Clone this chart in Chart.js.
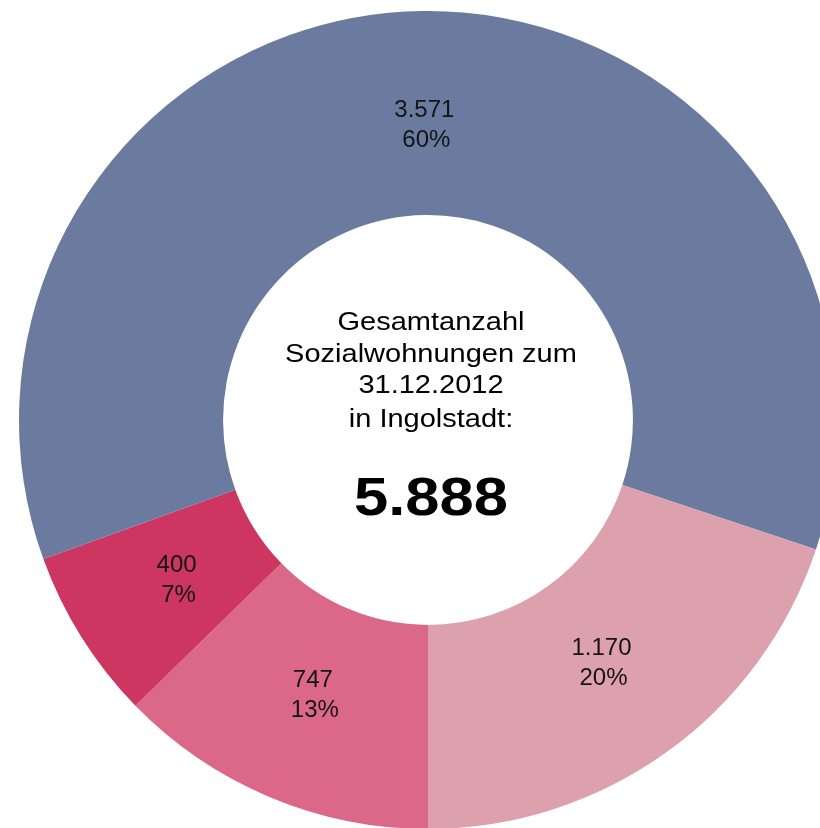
<!DOCTYPE html>
<html>
<head>
<meta charset="utf-8">
<script src="https://cdn.jsdelivr.net/npm/chart.js@4/dist/chart.umd.min.js"></script>
<style>
  html, body { margin: 0; padding: 0; background: #ffffff; }
  body { width: 820px; height: 828px; overflow: hidden; position: relative; }
  #c { position: absolute; left: 19px; top: 11px; }
</style>
</head>
<body>
<canvas id="c" width="818" height="818"></canvas>
<script>
// Data (order starts at 6 o'clock, clockwise)
const categories = ["Segment 747", "Segment 400", "Segment 3.571", "Segment 1.170"];
const values = [747, 400, 3571, 1170];
const percentLabels = ["13%", "7%", "60%", "20%"];
const colors = ["#DB6889", "#CC3661", "#6B7B9F", "#DDA1AE"];
const centerLines = ["Gesamtanzahl", "Sozialwohnungen zum", "31.12.2012", "in Ingolstadt:"];

function formatDE(n) {
  return String(n).replace(/\B(?=(\d{3})+(?!\d))/g, ".");
}
const total = values.reduce((a, b) => a + b, 0);

const labelPlugin = {
  id: 'sliceLabels',
  afterDatasetsDraw(chart) {
    const ctx = chart.ctx;
    const meta = chart.getDatasetMeta(0);
    ctx.save();
    ctx.fillStyle = '#141414';
    ctx.textAlign = 'center';
    ctx.textBaseline = 'alphabetic';
    ctx.font = '24px "Liberation Sans", Arial, sans-serif';
    meta.data.forEach((arc, i) => {
      const p = arc.getProps(['x', 'y', 'startAngle', 'endAngle', 'innerRadius', 'outerRadius'], true);
      const mid = (p.startAngle + p.endAngle) / 2;
      const r = p.innerRadius + 0.45 * (p.outerRadius - p.innerRadius);
      const cx = p.x + Math.cos(mid) * r;
      const cy = p.y + Math.sin(mid) * r;
      ctx.fillText(formatDE(values[i]), cx, cy - 6);
      ctx.fillText(percentLabels[i], cx + 2, cy + 24);
    });
    // center text
    const a0 = meta.data[0];
    const cx = a0.x + 3, cy = a0.y;
    ctx.fillStyle = '#000000';
    ctx.font = '25px "Liberation Sans", Arial, sans-serif';
    const offs = [-90, -58, -27, 7];
    centerLines.forEach((t, i) => {
      ctx.save();
      ctx.translate(cx, cy + offs[i]);
      ctx.scale(1.16, 1);
      ctx.fillText(t, 0, 0);
      ctx.restore();
    });
    ctx.font = 'bold 53px "Liberation Sans", Arial, sans-serif';
    ctx.save();
    ctx.translate(cx, cy + 95);
    ctx.scale(1.16, 1);
    ctx.fillText(formatDE(total), 0, 0);
    ctx.restore();
    ctx.restore();
  }
};

new Chart(document.getElementById('c'), {
  type: 'doughnut',
  data: {
    labels: categories,
    datasets: [{
      data: values,
      backgroundColor: colors,
      borderWidth: 0,
      hoverOffset: 0
    }]
  },
  options: {
    responsive: false,
    devicePixelRatio: 1,
    animation: false,
    rotation: 180,
    cutout: '50.1%',
    layout: { padding: 0 },
    plugins: {
      legend: { display: false },
      tooltip: { enabled: false }
    }
  },
  plugins: [labelPlugin]
});
</script>
</body>
</html>
